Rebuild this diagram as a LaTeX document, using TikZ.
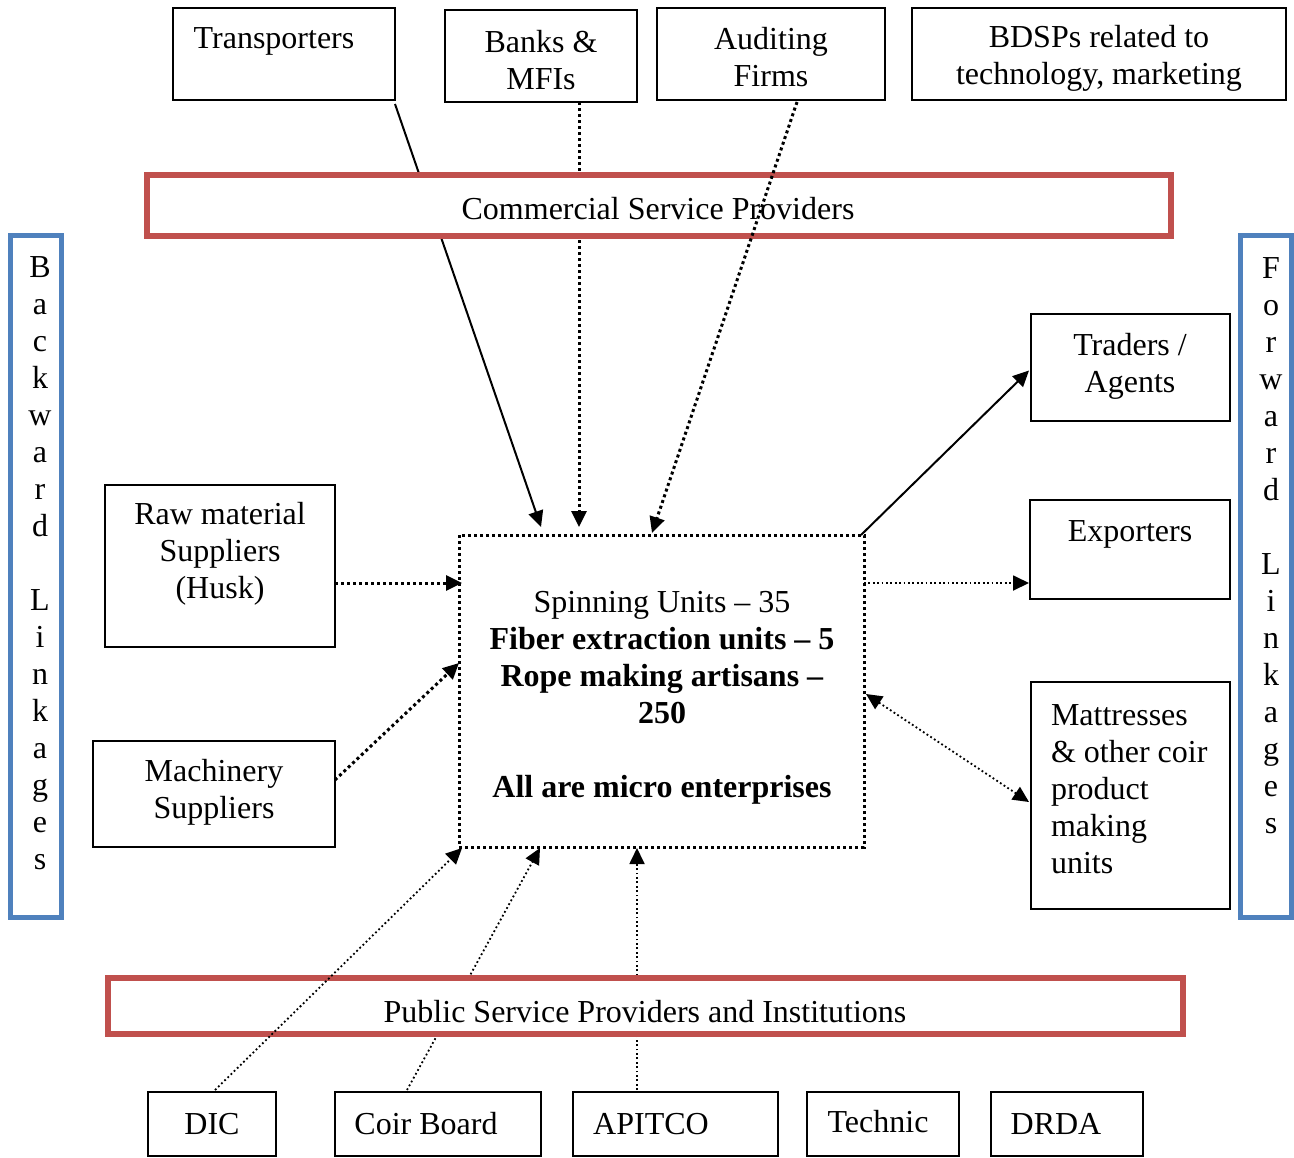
\documentclass[tikz,border=0pt]{standalone}
\usepackage{fontspec}
\setmainfont{Liberation Serif}
\usetikzlibrary{arrows.meta,calc}
\definecolor{redb}{HTML}{C0504D}
\definecolor{blueb}{HTML}{4F81BD}
\begin{document}
\begin{tikzpicture}[x=0.5pt,y=-0.5pt,
  every node/.style={font=\fontsize{16}{18.5}\selectfont,inner sep=0pt,outer sep=0pt},
  bx/.style={draw,line width=1pt,rectangle},
  redbox/.style={draw=redb,line width=3pt,fill=white,rectangle},
  bluebox/.style={draw=blueb,line width=2.5pt,rectangle},
  tip/.style={-{Triangle[length=8pt,width=7.5pt]}},
  thickdot/.style={line width=1.5pt,dash pattern=on 1.5pt off 1.5pt},
  thindot/.style={line width=0.9pt,dash pattern=on 0.9pt off 1.3pt},
  solidarr/.style={line width=1pt}]
\useasboundingbox (0,0) rectangle (1294,1157);

% top boxes
\node[bx,minimum width=111pt,minimum height=46pt] (trans) at (284,54) {};
\node[bx,minimum width=96pt,minimum height=46pt] (bank) at (541,56) {};
\node[bx,minimum width=114pt,minimum height=46pt] (audit) at (771,54) {};
\node[bx,minimum width=187pt,minimum height=46pt] (bdsp) at (1099,54) {};
\node (transT) at (274,41) {Transporters};
\node[align=center] (bankT) at (541,60) {Banks \&\\MFIs};
\node[align=center] (auditT) at (771,57) {Auditing\\Firms};
\node[align=center] (bdspT) at (1099,58) {BDSPs related to\\technology, marketing};

% linkage bars
\node[bluebox,minimum width=25.5pt,minimum height=341pt] (back) at (35.5,576) {};
\node[bluebox,minimum width=25.5pt,minimum height=341pt] (fwd) at (1265.5,576) {};
\node[align=center] (backT) at (40,563) {B\\a\\c\\k\\w\\a\\r\\d\\[18.5pt]L\\i\\n\\k\\a\\g\\e\\s};
\node[align=center] (fwdT) at (1271,545.5) {F\\o\\r\\w\\a\\r\\d\\[18.5pt]L\\i\\n\\k\\a\\g\\e\\s};

% central box
\node[thickdot,draw,rectangle,minimum width=202.5pt,minimum height=156pt] (cen) at (661.5,691) {};
\node[align=center] (cenT) at (662,698) {Spinning Units -- 35\\\textbf{Fiber extraction units -- 5}\\\textbf{Rope making artisans --}\\\textbf{250}\\[18.5pt]\textbf{All are micro enterprises}};

% left boxes
\node[bx,minimum width=115pt,minimum height=81pt] (raw) at (220,566) {};
\node[align=center] (rawT) at (220,554) {Raw material\\Suppliers\\(Husk)};
\node[bx,minimum width=121pt,minimum height=53pt] (mach) at (214,794) {};
\node[align=center] (machT) at (214,792.5) {Machinery\\Suppliers};

% right boxes
\node[bx,minimum width=99.5pt,minimum height=53.5pt] (trad) at (1130.5,367.5) {};
\node[align=center] (tradT) at (1130,366) {Traders /\\Agents};
\node[bx,minimum width=100pt,minimum height=49.5pt] (expo) at (1130,549.5) {};
\node (expoT) at (1130,534) {Exporters};
\node[bx,minimum width=99.5pt,minimum height=113.5pt] (matt) at (1130.5,795.5) {};
\node[align=left,anchor=west] (mattT) at (1051,789) {Mattresses\\\& other coir\\product\\making\\units};

% bottom boxes
\node[bx,minimum width=64pt,minimum height=32pt] (dic) at (212,1124) {};
\node[bx,minimum width=103pt,minimum height=32pt] (coir) at (438,1124) {};
\node[bx,minimum width=102.5pt,minimum height=32pt] (apit) at (675.5,1124) {};
\node[bx,minimum width=76pt,minimum height=32pt] (tech) at (883,1124) {};
\node[bx,minimum width=76pt,minimum height=32pt] (drda) at (1067,1124) {};
\node (dicT) at (212,1124) {DIC};
\node (coirT) at (426,1124) {Coir Board};
\node (apitT) at (651,1124) {APITCO};
\node (techT) at (878,1122) {Technic};
\node (drdaT) at (1056,1124) {DRDA};

% connectors hidden behind the service-provider bands
\draw[solidarr,tip] ($(trans.south east)+(0,4)$) -- ($(cen.north west)+(82,-8)$);
\draw[thickdot,tip] ($(bank.south)+(38,0)$) -- ($(cen.north west)+(120,-8)$);
\draw[thindot,tip] ($(coir.north)+(-31,-2)$) -- ($(cen.south west)+(81,1)$);
\draw[thindot,tip] ($(apit.north)+(-38.5,-2)$) -- ($(cen.south west)+(178,1)$);

% service-provider bands
\node[redbox,minimum width=512pt,minimum height=30.5pt] (csp) at (659,205.5) {};
\node[redbox,minimum width=537.5pt,minimum height=28pt] (psp) at (645.5,1006) {};
\node (cspT) at (658,209) {Commercial Service Providers};
\node (pspT) at (645,1012) {Public Service Providers and Institutions};

% connectors drawn over the bands
\draw[thickdot,tip] ($(audit.south)+(26,2)$) -- ($(cen.north west)+(193,-2)$);
\draw[thindot,tip] ($(dic.north)+(3,-2)$) -- ($(cen.south west)+(3,1)$);

% other connectors
\draw[thickdot,tip] ($(raw.east)+(0,17)$) -- ($(cen.north west)+(3,48)$);
\draw[thickdot,tip] ($(mach.east)+(0,-14)$) -- ($(cen.north west)+(0,128)$);
\draw[solidarr,tip] ($(cen.north east)+(-3,0)$) -- ($(trad.west)+(-2,3)$);
\draw[thindot,tip] ($(cen.north east)+(0,48)$) -- ($(expo.west)+(-1,33.5)$);
\draw[thindot,{Triangle[length=8pt,width=7.5pt]}-{Triangle[length=8pt,width=7.5pt]}] ($(cen.north east)+(2,159)$) -- ($(matt.west)+(-2,6.5)$);
\end{tikzpicture}
\end{document}
